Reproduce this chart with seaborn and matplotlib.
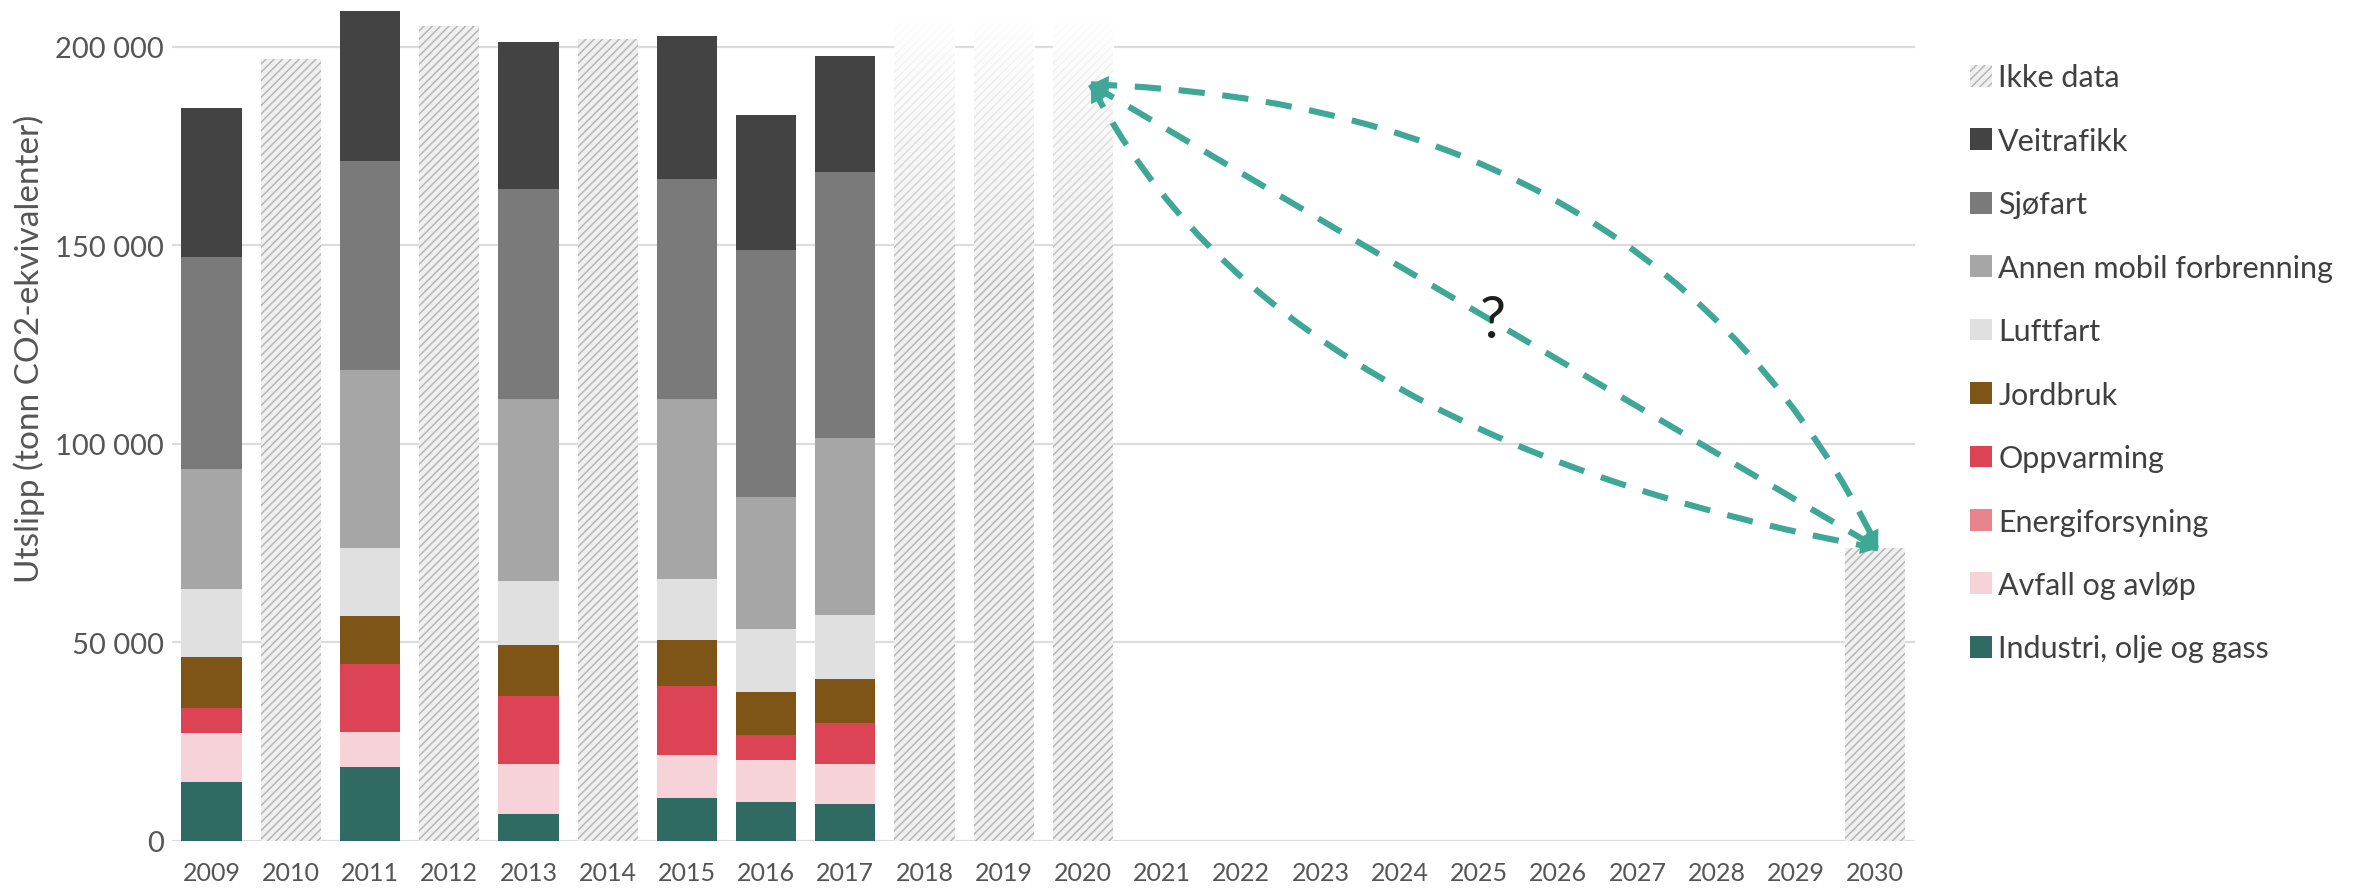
import numpy as np
import pandas as pd
import seaborn as sns
import matplotlib.pyplot as plt
from matplotlib.patches import Patch, PathPatch
from matplotlib.path import Path
from matplotlib.ticker import FuncFormatter

# years on the x axis
years = [str(y) for y in range(2009, 2031)]

# sector emissions (tonn CO2-ekv) for the years with data
data_years = ["2009", "2011", "2013", "2015", "2016", "2017"]
industri = [14800, 18600, 6800, 10800, 9700, 9300]
avfall = [12300, 8800, 12600, 10700, 10700, 10100]
energi = [0, 0, 0, 0, 0, 0]
oppvarming = [6300, 17200, 17000, 17500, 6300, 10300]
jordbruk = [12800, 12000, 12800, 11400, 10700, 10900]
luftfart = [17100, 17100, 16200, 15600, 15800, 16200]
annen = [30400, 44900, 45900, 45300, 33400, 44700]
sjofart = [53200, 52500, 52900, 55300, 62100, 66900]
veitrafikk = [37700, 37800, 37000, 36000, 34000, 29300]

# years without sector data (totals only)
hatch_years = ["2010", "2012", "2014", "2030"]
hatch_totals = [196800, 205200, 201800, 73600]
faded_years = ["2018", "2019", "2020"]
faded_totals = [206000, 206000, 206000]

# pathway from 2020 level to the 2030 target
path_start = 190500
path_end = 73600

sectors = ["Industri, olje og gass", "Avfall og avløp", "Energiforsyning", "Oppvarming",
           "Jordbruk", "Luftfart", "Annen mobil forbrenning", "Sjøfart", "Veitrafikk"]
values = [industri, avfall, energi, oppvarming, jordbruk, luftfart, annen, sjofart, veitrafikk]
colors = ["#2f6b62", "#f6d3d9", "#e8848e", "#dc4455", "#7f5417",
          "#e0e0e0", "#a6a6a6", "#7a7a7a", "#434343"]

sns.set_theme(style="white")
plt.rcParams['font.family'] = ['Lato', 'DejaVu Sans']
plt.rcParams['hatch.linewidth'] = 1.0

fig = plt.figure(figsize=(23.69, 8.95), dpi=100)
ax = fig.add_axes([0.0726, 0.0597, 0.7356, 0.9403])

for v in [0, 50000, 100000, 150000, 200000]:
    ax.axhline(v, color="#dcdcdc", lw=1.6, zorder=0)

bar_w = 0.76
hatch_face = "#efefef"
hatch_col = "#b2b2b2"

# stacked bars: draw cumulative totals from the top down
cum = np.cumsum(np.array(values), axis=0)
for i in range(len(sectors) - 1, -1, -1):
    df = pd.DataFrame({"year": data_years, "value": cum[i]})
    sns.barplot(data=df, x="year", y="value", order=years, color=colors[i],
                saturation=1, width=bar_w, errorbar=None, linewidth=0, ax=ax, zorder=2)

df_h = pd.DataFrame({"year": hatch_years, "value": hatch_totals})
sns.barplot(data=df_h, x="year", y="value", order=years, color=hatch_face, saturation=1,
            width=bar_w, errorbar=None, hatch="////", edgecolor=hatch_col, linewidth=0,
            ax=ax, zorder=2)

n_before = len(ax.patches)
df_f = pd.DataFrame({"year": faded_years, "value": faded_totals})
sns.barplot(data=df_f, x="year", y="value", order=years, color=hatch_face, saturation=1,
            width=bar_w, errorbar=None, hatch="////", edgecolor=hatch_col, linewidth=0,
            ax=ax, zorder=2)

# white fade towards the top of the uncertain years
t = np.linspace(0, 1, 256)
alpha = np.clip((t - 0.68) / 0.32, 0, 1) ** 0.9 * 0.97
grad = np.ones((256, 1, 4))
grad[:, 0, 3] = alpha
for p in ax.patches[n_before:]:
    x0, w, h = p.get_x(), p.get_width(), p.get_height()
    im = ax.imshow(grad, extent=[x0, x0 + w, 0, h], origin="lower", aspect="auto",
                   zorder=3, interpolation="bilinear")
    im.set_clip_path(p)

ax.set_xlim(-0.5, len(years) - 0.5)
ax.set_ylim(0, 212000)

# dashed pathways
teal = "#3ea796"
x0 = years.index("2020") + 0.1
x1 = years.index("2030") + 0.04
P0 = np.array([x0, path_start])
P2 = np.array([x1, path_end])
controls = [np.array([18.3, 185500]), (P0 + P2) / 2, np.array([13.4, 101700])]
for P1 in controls:
    path = Path([P0, P1, P2], [Path.MOVETO, Path.CURVE3, Path.CURVE3])
    ax.add_patch(PathPatch(path, fill=False, edgecolor=teal, lw=4.4,
                           linestyle=(0, (4.3, 2.9)), capstyle="butt", zorder=5))
    for tip, nxt in [(P0, P1), (P2, P1)]:
        back = tip + 0.07 * (nxt - tip)
        ax.annotate("", xy=tip, xytext=back,
                    arrowprops=dict(arrowstyle="-|>", color=teal, lw=0,
                                    mutation_scale=32, shrinkA=0, shrinkB=0), zorder=6)

ax.text(16.18, 131000, "?", fontsize=42, color="#1e1e1e", ha="center", va="center", zorder=6)

ax.yaxis.set_major_formatter(FuncFormatter(lambda v, pos: f"{int(v):,}".replace(",", " ")))
ax.set_yticks([0, 50000, 100000, 150000, 200000])
ax.tick_params(axis="x", length=0, pad=15, labelsize=18, labelcolor="#555555")
ax.tick_params(axis="y", length=0, pad=6, labelsize=21, labelcolor="#555555")
ax.set_xlabel("")
ax.set_ylabel("Utslipp (tonn CO2-ekvivalenter)", fontsize=24, color="#555555")
ax.yaxis.set_label_coords(-0.0728, 0.586)
sns.despine(ax=ax, left=True, bottom=True)

handles = [Patch(facecolor=hatch_face, edgecolor=hatch_col, hatch="////", lw=0, label="Ikke data")]
for i in range(len(sectors) - 1, -1, -1):
    handles.append(Patch(facecolor=colors[i], lw=0, label=sectors[i]))
fig.legend(handles=handles, loc="upper left", bbox_to_anchor=(0.8316, 0.928), frameon=False,
           fontsize=22, labelcolor="#404040", handlelength=0.72, handleheight=0.72,
           handletextpad=0.2, labelspacing=1.16, borderpad=0, borderaxespad=0)

fig.savefig("out.png", dpi=100)
